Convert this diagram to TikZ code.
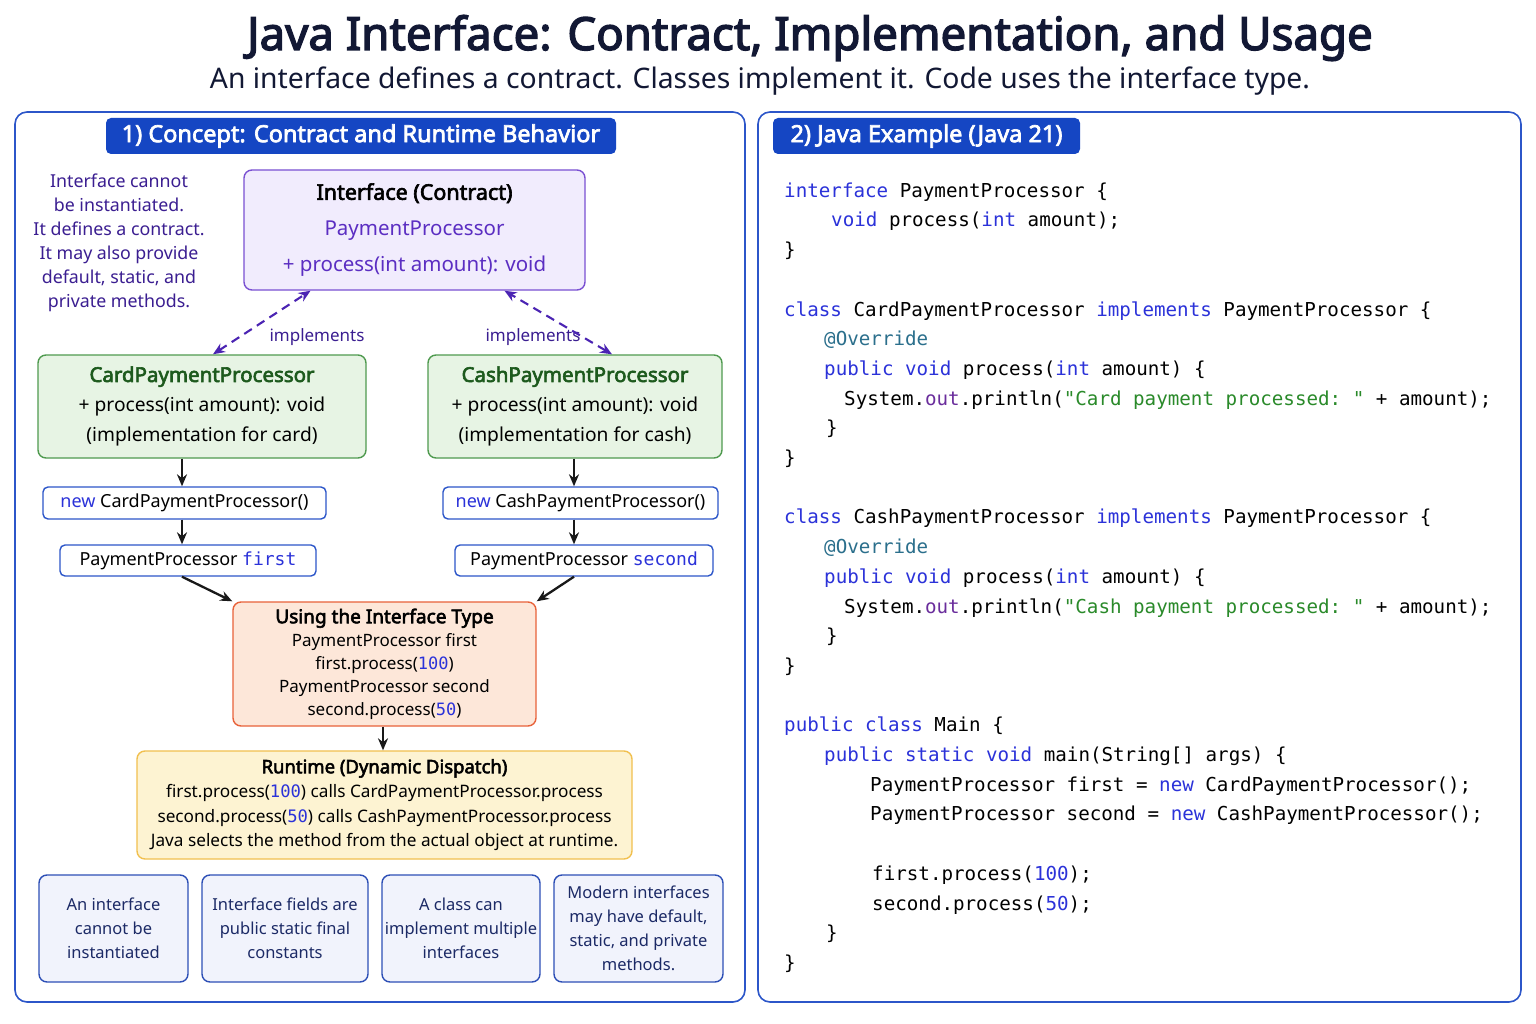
\documentclass[tikz,border=0pt]{standalone}
\usepackage{fontspec}
\setmainfont{Noto Sans}[AutoFakeBold=3]
\setmonofont{DejaVu Sans Mono}
\usetikzlibrary{positioning,arrows.meta}

\definecolor{titlenavy}{HTML}{121834}
\definecolor{panelblue}{HTML}{2C56C9}
\definecolor{headblue}{HTML}{1546C3}
\definecolor{notepurple}{HTML}{3B1E91}
\definecolor{ifacefill}{HTML}{F1ECFD}
\definecolor{ifacedraw}{HTML}{7A50D2}
\definecolor{ifacetext}{HTML}{5B2EC2}
\definecolor{dashpurple}{HTML}{4B24B3}
\definecolor{implfill}{HTML}{E7F4E4}
\definecolor{impldraw}{HTML}{4F9A4F}
\definecolor{impltext}{HTML}{1D5A1D}
\definecolor{usefill}{HTML}{FDE7D9}
\definecolor{usedraw}{HTML}{E8623A}
\definecolor{runfill}{HTML}{FDF3D2}
\definecolor{rundraw}{HTML}{F1C04F}
\definecolor{factfill}{HTML}{F1F3FC}
\definecolor{factdraw}{HTML}{2D4FB6}
\definecolor{facttext}{HTML}{1C2A66}
\definecolor{kwblue}{HTML}{2B32D9}
\definecolor{annteal}{HTML}{2B6F8C}
\definecolor{fieldpurple}{HTML}{6A2D9C}
\definecolor{strgreen}{HTML}{2A8A2A}

\newcommand\setsz[2]{\fontsize{#1}{#2}\selectfont}
\newcommand\jkw[1]{\textcolor{kwblue}{#1}}
\newcommand\jnum[1]{\texttt{\textcolor{kwblue}{#1}}}
\newcommand\jstr[1]{\textcolor{strgreen}{#1}}

\begin{document}
\begin{tikzpicture}[x=1pt, y=-1pt, >={Stealth[length=12pt,width=10pt]},
    panel/.style = {draw=panelblue, line width=1.6pt, rounded corners=12pt, fill=white, inner sep=0pt},
    header/.style = {fill=headblue, text=white, rounded corners=5pt, inner sep=0pt, font=\bfseries\setsz{23.5}{26}},
    box/.style = {rounded corners=8pt, line width=1.4pt, inner sep=0pt, align=center},
    iface/.style = {box, draw=ifacedraw, fill=ifacefill, font=\setsz{20.5}{36}},
    impl/.style = {box, draw=impldraw, fill=implfill, font=\setsz{19.2}{30}},
    objbox/.style = {box, rounded corners=5pt, draw=panelblue, fill=white, font=\setsz{18}{22}},
    use/.style = {box, draw=usedraw, fill=usefill, font=\setsz{17}{23}},
    run/.style = {box, draw=rundraw, fill=runfill, font=\setsz{17.2}{24.5}},
    fact/.style = {box, draw=factdraw, fill=factfill, text=facttext, minimum height=107pt, font=\setsz{16.5}{24}},
    flow/.style = {->, line width=2.3pt, draw=black!90},
    implarrow/.style = {<->, dashed, dash pattern=on 9pt off 6pt, line width=2.1pt, draw=dashpurple}]

    \useasboundingbox (0,0) rectangle (1536,1024);
    \fill[white] (0,0) rectangle (1536,1024);

    % Titolo
    \node[font=\bfseries\setsz{45.6}{50}, text=titlenavy] (title) at (810,38) {Java Interface: Contract, Implementation, and Usage};
    \node[font=\setsz{28.3}{32}, text=titlenavy] (subtitle) at (760,81) {An interface defines a contract. Classes implement it. Code uses the interface type.};

    % Pannelli
    \node[panel, minimum width=730pt, minimum height=890pt] (leftpanel) at (380,557) {};
    \node[panel, minimum width=763pt, minimum height=890pt] (rightpanel) at (1139.5,557) {};
    \node[header, minimum width=510pt, minimum height=36pt] (lhead) at (361,136) {1) Concept: Contract and Runtime Behavior};
    \node[header, minimum width=307pt, minimum height=36pt] (rhead) at (926.5,136) {2) Java Example (Java 21)};

    % Nota laterale
    \node[align=center, text=notepurple, font=\setsz{17.8}{24}] (note) at (119,243)
        {Interface cannot\\be instantiated.\\It defines a contract.\\It may also provide\\default, static, and\\private methods.};

    % Interfaccia e classi
    \node[iface, minimum width=341pt, minimum height=120pt] (iface) at (414.5,230)
        {{\bfseries\setsz{21.5}{36}Interface (Contract)}\\\textcolor{ifacetext}{PaymentProcessor}\\\textcolor{ifacetext}{+ process(int amount): void}};
    \node[impl, minimum width=328pt, minimum height=103pt] (card) at (202,406.5)
        {\textcolor{impltext}{\bfseries\setsz{20.5}{30}CardPaymentProcessor}\\+ process(int amount): void\\(implementation for card)};
    \node[impl, minimum width=294pt, minimum height=103pt] (cash) at (575,406.5)
        {\textcolor{impltext}{\bfseries\setsz{20.5}{30}CashPaymentProcessor}\\+ process(int amount): void\\(implementation for cash)};
    \node[text=notepurple, font=\setsz{17}{20}] (impll) at (317,337) {implements};
    \node[text=notepurple, font=\setsz{17}{20}] (implr) at (533,337) {implements};

    % Oggetti
    \node[objbox, minimum width=283pt, minimum height=32pt] (newcard) at (184.5,503) {\jkw{new} CardPaymentProcessor()};
    \node[objbox, minimum width=256pt, minimum height=31pt] (first) at (188,560.5) {PaymentProcessor \texttt{\jkw{first}}};
    \node[objbox, minimum width=275pt, minimum height=32pt] (newcash) at (580.5,503) {\jkw{new} CashPaymentProcessor()};
    \node[objbox, minimum width=258pt, minimum height=31pt] (second) at (584,560.5) {PaymentProcessor \texttt{\jkw{second}}};

    \node[use, minimum width=303pt, minimum height=124pt] (usage) at (384.5,664)
        {{\bfseries\setsz{19}{23}Using the Interface Type}\\PaymentProcessor first\\first.process(\jnum{100})\\PaymentProcessor second\\second.process(\jnum{50})};
    \node[run, minimum width=495pt, minimum height=108pt] (runtime) at (384.5,805)
        {{\bfseries\setsz{18.5}{24.5}Runtime (Dynamic Dispatch)}\\first.process(\jnum{100}) calls CardPaymentProcessor.process\\second.process(\jnum{50}) calls CashPaymentProcessor.process\\Java selects the method from the actual object at runtime.};

    % Riquadri in basso
    \node[fact, minimum width=149pt] (fact1) at (113.5,928.5) {An interface\\cannot be\\instantiated};
    \node[fact, minimum width=166pt] (fact2) [right=12.6pt of fact1] {Interface fields are\\public static final\\constants};
    \node[fact, minimum width=158pt] (fact3) [right=12.6pt of fact2] {A class can\\implement multiple\\interfaces};
    \node[fact, minimum width=169pt] (fact4) [right=12.6pt of fact3] {Modern interfaces\\may have default,\\static, and private\\methods.};

    % Disegna le frecce
    \coordinate (lcol) at (182,0);
    \coordinate (rcol) at (574,0);
    \draw[implarrow] ([xshift=11pt]card.north) -- ([xshift=-104pt]iface.south);
    \draw[implarrow] ([xshift=37pt]cash.north) -- ([xshift=90pt]iface.south);
    \draw[flow] (card.south -| lcol) -- (newcard.north -| lcol);
    \draw[flow] (newcard.south -| lcol) -- (first.north -| lcol);
    \draw[flow] (cash.south -| rcol) -- (newcash.north -| rcol);
    \draw[flow] (newcash.south -| rcol) -- (second.north -| rcol);
    \draw[flow] (first.south -| lcol) -- (usage.north west);
    \draw[flow] (second.south -| rcol) -- (usage.north east);
    \draw[flow] ([xshift=-1.5pt]usage.south) -- ([xshift=-1.5pt]runtime.north);

    % Codice Java
    \node[anchor=north west, align=left, inner sep=0pt, font=\ttfamily\setsz{19.2}{29.7}, text=black] (code) at (784,182)
        {\rule{0pt}{15pt}\jkw{interface} PaymentProcessor \{\\
        \hspace*{47pt}\jkw{void} process(\jkw{int} amount);\\
        \}\\
        \mbox{}\\
        \jkw{class} CardPaymentProcessor \jkw{implements} PaymentProcessor \{\\
        \hspace*{40pt}\textcolor{annteal}{@Override}\\
        \hspace*{40pt}\jkw{public} \jkw{void} process(\jkw{int} amount) \{\\
        \hspace*{60pt}System.\textcolor{fieldpurple}{out}.println(\jstr{"Card payment processed: "} + amount);\\
        \hspace*{42pt}\}\\
        \}\\
        \mbox{}\\
        \jkw{class} CashPaymentProcessor \jkw{implements} PaymentProcessor \{\\
        \hspace*{40pt}\textcolor{annteal}{@Override}\\
        \hspace*{40pt}\jkw{public} \jkw{void} process(\jkw{int} amount) \{\\
        \hspace*{60pt}System.\textcolor{fieldpurple}{out}.println(\jstr{"Cash payment processed: "} + amount);\\
        \hspace*{42pt}\}\\
        \}\\
        \mbox{}\\
        \jkw{public} \jkw{class} Main \{\\
        \hspace*{40pt}\jkw{public} \jkw{static} \jkw{void} main(String[] args) \{\\
        \hspace*{86pt}PaymentProcessor first = \jkw{new} CardPaymentProcessor();\\
        \hspace*{86pt}PaymentProcessor second = \jkw{new} CashPaymentProcessor();\\
        \mbox{}\\
        \hspace*{88pt}first.process(\jkw{100});\\
        \hspace*{88pt}second.process(\jkw{50});\\
        \hspace*{42pt}\}\\
        \}};

\end{tikzpicture}
\end{document}
